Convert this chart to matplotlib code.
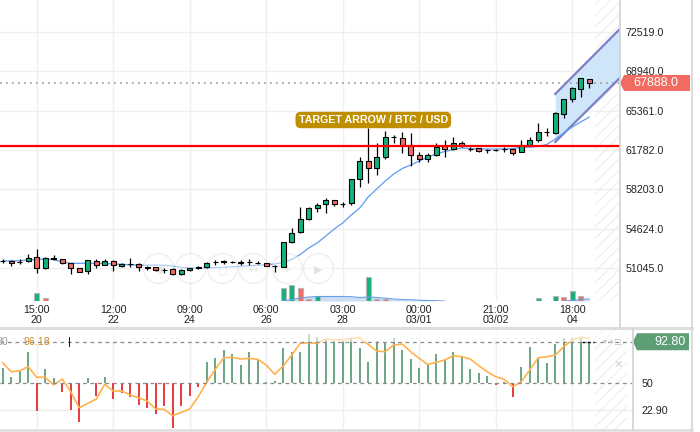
import matplotlib
matplotlib.use('Agg')
import matplotlib.pyplot as plt
import matplotlib.transforms as mtransforms
from matplotlib.patches import Polygon
from matplotlib.lines import Line2D
import numpy as np

plt.rcParams['font.family'] = ['Liberation Sans', 'DejaVu Sans']
plt.rcParams['hatch.linewidth'] = 0.7

# BTC/USD candles (5h)
opens = [51680, 51700, 51590, 51670, 52010, 51060, 51970, 51830, 51460, 51010,
         50740, 51700, 51340, 51700, 51250, 51380, 51370, 51070, 51100, 50860,
         50970, 50460, 50830, 51060, 51100, 51550, 51610, 51560, 51520, 51550,
         51520, 51490, 51220, 51150, 53430, 54270, 55470, 56470, 56840, 57200,
         56860, 56930, 59110, 60780, 60120, 61170, 62940, 62850, 62240, 61330,
         60940, 61330, 62170, 61900, 62450, 61900, 61940, 61790, 61780, 61840,
         61840, 61570, 62240, 62690, 63390, 63300, 65060, 66400, 67310, 68250]
highs = [51830, 51720, 51830, 52310, 52740, 52070, 52220, 51850, 51520, 51050,
         51760, 51830, 51830, 51760, 51520, 51920, 51460, 51220, 51130, 51060,
         51060, 50920, 51080, 51260, 51540, 51760, 51760, 51680, 51760, 51830,
         51630, 51510, 51270, 53430, 54650, 56560, 56560, 56930, 57380, 57230,
         57070, 59140, 61170, 63760, 62450, 63540, 63150, 63450, 63300, 61630,
         61480, 62450, 62690, 62940, 62630, 62080, 61960, 61870, 61830, 62080,
         61870, 62690, 62990, 64210, 63760, 65270, 66400, 67550, 68340, 68250]
lows = [51520, 51220, 51370, 51610, 50550, 50970, 51760, 51370, 50460, 50640,
        50460, 51010, 51330, 50740, 51130, 51150, 50790, 50850, 50790, 50550,
        50370, 50400, 50760, 50950, 51080, 51340, 51430, 51450, 51280, 51280,
        51400, 51240, 50700, 51100, 53290, 54260, 55410, 56160, 56070, 56680,
        56620, 56770, 58440, 58750, 59500, 60940, 62420, 61480, 60330, 60720,
        60720, 61260, 61120, 61780, 62080, 61720, 61570, 61480, 61690, 61630,
        61330, 61570, 62170, 62540, 63060, 63280, 64670, 66130, 66640, 67400]
closes = [51660, 51520, 51580, 51970, 51060, 51970, 51830, 51460, 51010, 50700,
          51740, 51340, 51700, 51340, 51400, 51370, 51150, 51060, 50850, 50850,
          50460, 50830, 51040, 51070, 51490, 51560, 51620, 51550, 51530, 51560,
          51510, 51250, 51210, 53430, 54250, 55470, 56440, 56740, 57200, 56840,
          56870, 59110, 60810, 60120, 61170, 62940, 62930, 62210, 61330, 60940,
          61330, 62080, 61850, 62450, 62150, 61890, 61720, 61780, 61780, 61850,
          61480, 62240, 62690, 63390, 63400, 65120, 66400, 67400, 68310, 67888]
ma = [51673, 51673, 51701, 51764, 51828, 51828, 51810, 51582, 51464, 51464,
      51464, 51464, 51445, 51400, 51373, 51327, 51291, 51282, 51309, 51282,
      51218, 51081, 51036, 51009, 51036, 51063, 51099, 51145, 51191, 51236,
      51282, 51337, 51400, 51537, 51810, 52265, 52857, 53312, 53950, 54587,
      55134, 55862, 56500, 57502, 58230, 58959, 59596, 60097, 60416, 60780,
      61145, 61418, 61645, 61828, 61964, 61919, 61873, 61873, 61873, 61873,
      61919, 62010, 62055, 62101, 62283, 62784, 63330, 63877, 64332, 64787]

# volume (only visible bars), 1 = green, 0 = red
vol_idx = [4, 5, 33, 34, 35, 36, 37, 43, 44, 45, 63, 65, 66, 67, 68]
vol = [770, 270, 1330, 1650, 1330, 170, 500, 2450, 250, 250, 270, 530, 430, 1000, 530]
vol_up = [1, 0, 1, 1, 0, 0, 1, 1, 0, 0, 1, 1, 0, 1, 0]
vol_ma_idx = [33, 34, 35, 36, 37, 38, 39, 40, 41, 42, 43, 44, 45, 46, 47, 48, 49, 50, 51, 52]
vol_ma = [0, 150, 300, 400, 450, 450, 450, 450, 430, 350, 400, 350, 280, 200, 150, 120, 80, 50, 30, 0]
vol_ma2_idx = [66, 67, 68, 69]
vol_ma2 = [0, 50, 150, 200]

# oscillator pane
osc_hist = [65.4, 56.8, 62.7, 82.5, 21.8, 64.7, 55.8, 41.4, 22.5, 9.9,
            55.8, 36.9, 56.8, 33.8, 39.7, 36.2, 27.7, 24.9, 18.1, 26.6,
            3.7, 26.9, 37.2, 45.9, 72.2, 75.7, 84.3, 79.8, 68.8, 81.9,
            74.7, 51, 52, 86, 82.5, 82.5, 100.4, 98, 95.6, 93.5,
            93.5, 96.3, 86.6, 72.2, 93.5, 93.0, 96.3, 84.3, 75, 66,
            69.5, 79.8, 74, 81.9, 77.4, 64.7, 60.3, 57.8, 48.5, 51,
            36.2, 67.1, 87.7, 75.7, 70.6, 90.1, 96.3, 96.3, 96.3, 92.8]
osc_line = [71, 61.9, 63, 67.1, 56.2, 56.2, 48.3, 54.4, 41.4, 24.9,
            29.4, 33.8, 49, 42.1, 42.1, 38, 35.2, 31.8, 23.6, 23.2,
            16.7, 20.1, 23.6, 36.2, 51, 64.4, 76.3, 76.8, 75, 75.7,
            74.7, 68.8, 59.3, 67.8, 79.1, 91.2, 91.8, 91.2, 95.6, 94.6,
            94.6, 96.3, 97, 90, 83.2, 82.5, 89.4, 90.4, 82.5, 75.7,
            69.5, 71.6, 74, 78.4, 77.4, 75, 68.1, 61.9, 56.8, 54.1,
            46.5, 51.6, 63.7, 76.3, 77.4, 79.1, 87.7, 94.6, 97.3, 96.3]

x_label_pos = [4, 13, 22, 31, 40, 49, 58, 67]
x_labels = ['15:00\n20', '12:00\n22', '09:00\n24', '06:00\n26', '03:00\n28',
            '00:00\n03/01', '21:00\n03/02', '18:00\n04']
price_ticks = [51045, 54624, 58203, 61782, 65361, 68940, 72519]
last_price = 67888
target_level = 62150
channel_x = [65, 72.7]
channel_upper = [66882, 72880]
channel_lower = [62510, 68420]
osc_last = 92.8

GREEN = '#12b27a'
RED = '#f26b61'

W, H = 700, 432
fig = plt.figure(figsize=(7, 4.32), dpi=100)
ax = fig.add_axes([0, 1 - 301 / H, 620 / W, 301 / H])
axv = ax.twinx()
ax2 = fig.add_axes([0, 3 / H, 633 / W, 100 / H])

idx = np.arange(len(opens))
o = np.array(opens); c = np.array(closes)
hi = np.array(highs); lo = np.array(lows)
up = c >= o

# ---- main pane
ax.set_xlim(-0.32, 72.62)
ax.set_ylim(48031, 75443)
for s in ax.spines.values():
    s.set_visible(False)
ax.set_xticks(x_label_pos)
ax.set_xticklabels(x_labels, linespacing=0.95)
ax.set_yticks(price_ticks)
ax.set_yticklabels([f'{p:.1f}' for p in price_ticks])
ax.yaxis.tick_right()
ax.tick_params(length=0, labelsize=7.7, colors='#222222')
ax.tick_params(axis='y', pad=4, labelleft=False, labelright=True)
ax.tick_params(axis='x', pad=3)
ax.grid(True, color='#efefef', lw=1)
ax.set_axisbelow(True)

ax.axvspan(69.7, 73, facecolor='none', edgecolor='#ebebeb', hatch='///', lw=0, zorder=1)

# channel
ax.fill_between(channel_x, channel_lower, channel_upper, color='#cfe6fa', lw=0, zorder=1.5)
ax.plot(channel_x, channel_upper, color='#7c7fc6', lw=1.6, zorder=2)
ax.plot(channel_x, channel_lower, color='#7c7fc6', lw=1.6, zorder=2)

ax.axhline(last_price, color='#999999', lw=1.2, ls=(0, (1, 2.6)), zorder=2)
ax.plot(idx, ma, color='#5a9cf2', lw=0.9, zorder=3)

colors = np.where(up, GREEN, RED)
colors[-1] = '#d77480'
ax.vlines(idx, lo, hi, color='black', lw=0.9, zorder=4)
ax.bar(idx, np.abs(c - o) + 15, bottom=np.minimum(o, c), width=0.6, color=colors,
       edgecolor='black', lw=0.8, zorder=5)

ax.axhline(target_level, color='#ff0000', lw=1.6, zorder=6)

ax.text(43.6, 64514, 'TARGET ARROW / BTC / USD', ha='center', va='center', color='white',
        fontsize=7.7, fontweight='bold', zorder=7,
        bbox=dict(boxstyle='round,pad=0.3,rounding_size=0.5', fc='#c08f00', ec='none'))

# chart navigation buttons
for px, glyph in [(158, '◀'), (190, '−'), (222, '○'), (253, '↔'), (287, '+'), (318, '▶')]:
    ax.scatter([px / 620], [33 / 301], s=460, transform=ax.transAxes, facecolor='white',
               edgecolor='#e2e2e2', lw=1.1, alpha=0.5, zorder=3.5, clip_on=False)
    ax.text(px / 620, 31 / 301, glyph, transform=ax.transAxes, ha='center', va='center',
            fontsize=8, color='#e2e2e2', zorder=3.6, family=['DejaVu Sans'])

# last price tag
tr = mtransforms.blended_transform_factory(ax.transAxes, ax.transData)
dy = 8 * 91.07
ax.add_patch(Polygon([(1.0, last_price), (1.0 + 4 / 620, last_price + dy), (690 / 620, last_price + dy),
                      (690 / 620, last_price - dy), (1.0 + 4 / 620, last_price - dy)],
                     closed=True, fc=RED, ec='none', transform=tr, clip_on=False, zorder=8))
ax.text(656 / 620, last_price, f'{last_price:.1f}', transform=tr, ha='center', va='center',
        color='white', fontsize=9, zorder=9, clip_on=False)

# volume
axv.set_ylim(0, 30100)
axv.axis('off')
axv.bar(vol_idx, vol, width=0.6, color=[GREEN if u else RED for u in vol_up],
        edgecolor='#b8b8b8', lw=0.8, zorder=2)
axv.fill_between(vol_ma_idx, 0, vol_ma, color='#a9c9f3', alpha=0.6, lw=0)
axv.plot(vol_ma_idx, vol_ma, color='#6a9ee8', lw=0.8)
axv.fill_between(vol_ma2_idx, 0, vol_ma2, color='#a9c9f3', alpha=0.6, lw=0)
axv.plot(vol_ma2_idx, vol_ma2, color='#6a9ee8', lw=0.8)

# ---- oscillator pane
ax2.set_xlim(-0.32, 74.15)
ax2.set_ylim(3.0, 105.9)
for s in ax2.spines.values():
    s.set_visible(False)
ax2.set_xticks(x_label_pos)
ax2.set_xticklabels([])
ax2.set_yticks([22.9, 50])
ax2.set_yticklabels(['22.90', '50'])
ax2.yaxis.tick_right()
ax2.tick_params(length=0, labelsize=7.7, colors='#222222')
ax2.tick_params(axis='y', pad=6)
ax2.grid(True, axis='x', color='#efefef', lw=1)
ax2.axhline(22.9, color='#efefef', lw=1, zorder=0)
ax2.set_axisbelow(True)
ax2.axvspan(69.7, 73.4, facecolor='none', edgecolor='#ebebeb', hatch='///', lw=0, zorder=0.5)

oh = np.array(osc_hist)
ax2.vlines(idx, 50, oh, colors=np.where(oh >= 50, '#5e9e76', '#e42a2f'), lw=1.3, zorder=2)
ax2.plot(idx, osc_line, color='#ffb24d', lw=1.2, zorder=2.5)
ax2.axhspan(osc_last, 106, color='white', alpha=0.6, lw=0, zorder=3)
ax2.axhline(50, color='#8a8a8a', lw=0.9, ls=(0, (3, 3)), zorder=4)
ax2.axhline(osc_last, color='#8a8a8a', lw=0.9, ls=(0, (3, 3)), zorder=4)
ax2.hlines(osc_last, 68.2, 69.6, color='black', lw=1, ls=(0, (2, 2)), zorder=4.5)

tr2 = mtransforms.blended_transform_factory(ax2.transAxes, ax2.transData)
dv = 8.5 * 1.029
ax2.add_patch(Polygon([(1.0, osc_last), (1.0 + 4 / 633, osc_last + dv), (689 / 633, osc_last + dv),
                       (689 / 633, osc_last - dv), (1.0 + 4 / 633, osc_last - dv)],
                      closed=True, fc='#5e9e76', ec='none', transform=tr2, clip_on=False, zorder=8))
ax2.text(686 / 633, osc_last, f'{osc_last:.2f}', transform=tr2, ha='right', va='center',
         color='white', fontsize=9, zorder=9, clip_on=False)

# pane icons
ax2.text(605 / 633, osc_last, '▾', transform=tr2, ha='center', va='center', fontsize=6, color='#c8c8c8', zorder=6)
ax2.text(611 / 633, osc_last, '▲', transform=tr2, ha='center', va='center', fontsize=5, color='#c8c8c8', zorder=6)
ax2.text(618 / 633, osc_last, '□', transform=tr2, ha='center', va='center', fontsize=7, color='#b0b0b0', zorder=6)
ax2.text(618 / 633, 68.6, '✕', transform=tr2, ha='center', va='center', fontsize=8, color='#d0d0d0', zorder=6)

# legend values
ly = 1 - 341.7 / H
fig.text(-3 / W, ly, '30', color='#9a9a9a', fontsize=7.7, va='center')
fig.text(23 / W, ly, '96.18', color='#c98a2e', fontsize=7.7, va='center')
fig.text(68 / W, ly, '|', color='black', fontsize=7.7, va='center')


def fline(x0, y0, x1, y1, color, lw):
    fig.add_artist(Line2D([x0 / W, x1 / W], [1 - y0 / H, 1 - y1 / H], color=color, lw=lw,
                          transform=fig.transFigure))


fline(0, 328, 692, 328, '#dddddd', 2.2)
fline(0, 430, 692, 430, '#dddddd', 1.8)
fline(620, 0, 620, 327, '#d4d4d4', 1.3)
fline(633, 329, 633, 430, '#d4d4d4', 1.3)
fline(692, 0, 692, 431, '#d8d8d8', 1.3)

fig.savefig('out.png', dpi=100)
